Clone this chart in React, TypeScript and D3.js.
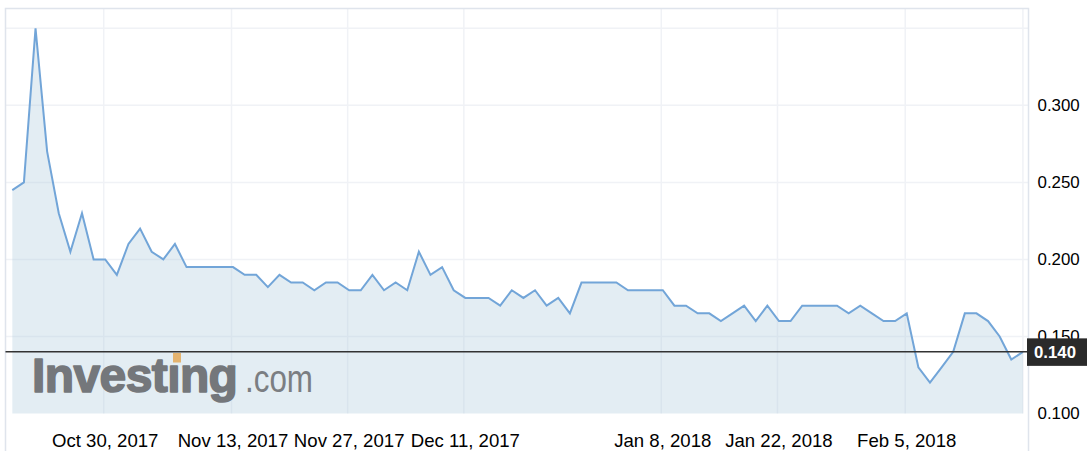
import React from 'react';
import * as d3 from 'd3';

// Daily closing values (trading days)
const values: number[] = [
  0.245, 0.25, 0.35, 0.27, 0.23, 0.205, 0.23, 0.2, 0.2, 0.19,
  0.21, 0.22, 0.205, 0.2, 0.21, 0.195, 0.195, 0.195, 0.195, 0.195,
  0.19, 0.19, 0.182, 0.19, 0.185, 0.185, 0.18, 0.185, 0.185, 0.18,
  0.18, 0.19, 0.18, 0.185, 0.18, 0.205, 0.19, 0.195, 0.18, 0.175,
  0.175, 0.175, 0.17, 0.18, 0.175, 0.18, 0.17, 0.175, 0.165, 0.185,
  0.185, 0.185, 0.185, 0.18, 0.18, 0.18, 0.18, 0.17, 0.17, 0.165,
  0.165, 0.16, 0.165, 0.17, 0.16, 0.17, 0.16, 0.16, 0.17, 0.17,
  0.17, 0.17, 0.165, 0.17, 0.165, 0.16, 0.16, 0.165, 0.13, 0.12,
  0.13, 0.14, 0.165, 0.165, 0.16, 0.15, 0.135, 0.14,
];

const xTickIndex: number[] = [8, 19, 29, 39, 56, 66, 77];
const xTickLabels: string[] = [
  'Oct 30, 2017', 'Nov 13, 2017', 'Nov 27, 2017', 'Dec 11, 2017',
  'Jan 8, 2018', 'Jan 22, 2018', 'Feb 5, 2018',
];
const yGridValues: number[] = [0.15, 0.2, 0.25, 0.3, 0.35];
const yTickValues: number[] = [0.1, 0.15, 0.2, 0.25, 0.3];
const lastPrice = 0.14;

const FONT = '"Liberation Sans", Arial, Helvetica, sans-serif';

export default function App() {
  const W = 1087;
  const H = 451;
  const frameL = 5.5;
  const frameR = 1028.5;
  const frameT = 8.5;

  const x = d3.scaleLinear().domain([0, values.length - 1]).range([12.3, 1022.9]);
  const y = d3.scaleLinear().domain([0.1, 0.35]).range([413.5, 28.3]);

  const line = d3
    .line<number>()
    .x((_, i) => x(i))
    .y((d) => y(d));
  const area = d3
    .area<number>()
    .x((_, i) => x(i))
    .y0(y(0.1))
    .y1((d) => y(d));

  const py = y(lastPrice);

  return (
    <svg
      width={W}
      height={H}
      style={{ position: 'absolute', left: 0, top: 0, background: '#fff' }}
      fontFamily={FONT}
    >
      <rect x={0} y={0} width={W} height={H} fill="#ffffff" />
      {/* horizontal grid */}
      {yGridValues.map((v) => (
        <line
          key={'hg' + v}
          x1={frameL}
          x2={frameR}
          y1={y(v)}
          y2={y(v)}
          stroke="#f0f2f6"
          strokeWidth={1.5}
        />
      ))}
      {/* vertical grid */}
      {xTickIndex.map((i) => (
        <line
          key={'vg' + i}
          x1={x(i) - 1.5}
          x2={x(i) - 1.5}
          y1={frameT}
          y2={y(0.1)}
          stroke="#f0f2f6"
          strokeWidth={1.5}
        />
      ))}
      <line
        x1={x(values.length - 1)}
        x2={x(values.length - 1)}
        y1={frameT}
        y2={y(0.1)}
        stroke="#f0f2f6"
        strokeWidth={1.5}
      />
      {/* area */}
      <path d={area(values) || ''} fill="rgb(176,202,222)" fillOpacity={0.35} />
      <path
        d={line(values) || ''}
        fill="none"
        stroke="#72a5d8"
        strokeWidth={2}
        strokeLinejoin="miter"
      />
      {/* watermark */}
      <g>
        <text
          x={32}
          y={391.7}
          fontSize={48}
          fontWeight="bold"
          fill="#74777b"
          stroke="#74777b"
          strokeWidth={1.6}
          strokeLinejoin="round"
          letterSpacing={-0.6}
        >
          Invest<tspan>{'\u0131'}</tspan>ng
        </text>
        <text
          x={245}
          y={391.7}
          fontSize={38}
          fill="#7b7e82"
          textLength={68}
          lengthAdjust="spacingAndGlyphs"
        >
          .com
        </text>
        <rect x={173} y={353} width={8} height={9.5} fill="#e4b36f" />
      </g>
      {/* frame */}
      <rect
        x={frameL}
        y={frameT}
        width={frameR - frameL}
        height={H + 20}
        fill="none"
        stroke="#dfe4ec"
        strokeWidth={1.5}
      />
      {/* y labels */}
      {yTickValues.map((v, k) => (
        <text key={'yl' + v} x={1037.5} y={y(v)} dy="0.33em" fontSize={16.9} fill="#000">
          {yTickValues[k].toFixed(3)}
        </text>
      ))}
      {/* last price line & label */}
      <line x1={frameL} x2={1027} y1={py} y2={py} stroke="#333" strokeWidth={1.5} />
      <rect x={1027} y={py - 13.5} width={62} height={27.5} fill="#2a2a2a" />
      <text x={1034} y={py} dy="0.36em" fontSize={16.8} fontWeight="bold" fill="#fff">
        {lastPrice.toFixed(3)}
      </text>
      {/* x labels */}
      {xTickIndex.map((i, k) => (
        <text key={'xl' + i} x={x(i)} y={447.3} textAnchor="middle" fontSize={18.6} fill="#000">
          {xTickLabels[k]}
        </text>
      ))}
    </svg>
  );
}
